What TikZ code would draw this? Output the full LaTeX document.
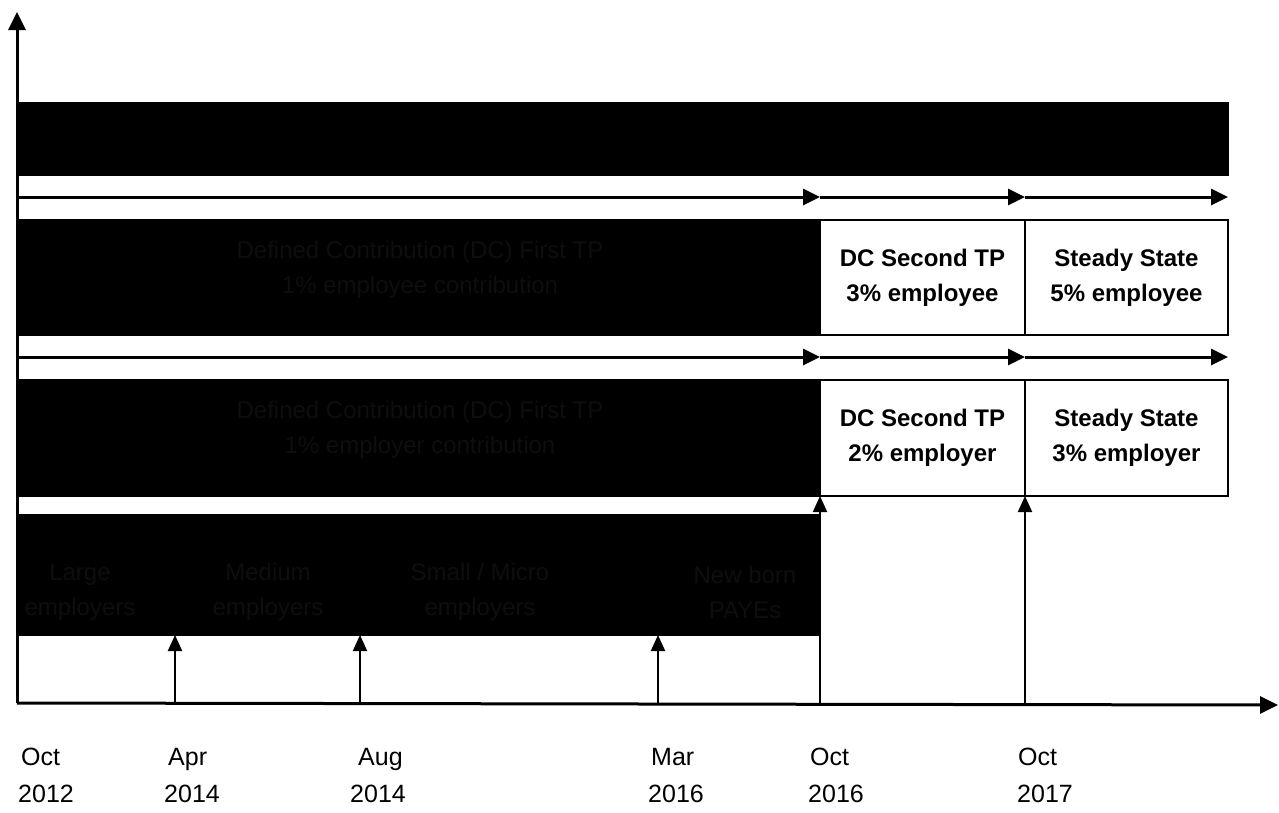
\documentclass[tikz,border=0pt]{standalone}
\usepackage{fontspec}
\setmainfont{Liberation Sans}
\usetikzlibrary{arrows.meta}
\definecolor{ghost}{RGB}{14,14,14}
\begin{document}
\begin{tikzpicture}[x=1pt,y=-1pt,
 box/.style={draw=black,line width=2pt,rectangle,inner sep=0pt,outer sep=0pt,align=center,font=\bfseries\fontsize{24}{35}\selectfont},
 darkbox/.style={box,fill=black,text=ghost},
 whitebox/.style={box,fill=white,text=black},
 ghosttext/.style={text=ghost,align=center,font=\fontsize{24}{35}\selectfont,inner sep=0pt},
 flow/.style={line width=3pt,-{Triangle[length=17pt,width=16pt]}},
 axisline/.style={line width=3pt,-{Triangle[length=18pt,width=17pt]}},
 tickline/.style={line width=2pt,-{Triangle[length=16pt,width=14pt]}},
 datelabel/.style={anchor=north west,align=left,inner sep=0pt,font=\fontsize{25}{37}\selectfont}]
\useasboundingbox (0,0) rectangle (1279,812);

% axes
\coordinate (O) at (17,703);
\coordinate (ytop) at (17,12);
\coordinate (xend) at (1278,705);
\draw[axisline] (O) -- (ytop);
\draw[axisline] (O) -- (xend);

% top bar
\node[darkbox,minimum width=1211pt,minimum height=72pt] (top) at (622.5,139) {};

% row 2 (employee)
\node[darkbox,minimum width=803pt,minimum height=115pt] (emp1) at (418.5,277.5) {};
\node[ghosttext] (emp1t) at (420,270) {Defined Contribution (DC) First TP\\1\% employee contribution};
\node[whitebox,minimum width=205pt,minimum height=115pt] (emp2) at (922.5,277.5) {DC Second TP\\3\% employee};
\node[whitebox,minimum width=203pt,minimum height=115pt] (emp3) at (1126.5,277.5) {Steady State\\5\% employee};

% row 3 (employer)
\node[darkbox,minimum width=803pt,minimum height=116pt] (er1) at (418.5,438) {};
\node[ghosttext] (er1t) at (420,430) {Defined Contribution (DC) First TP\\1\% employer contribution};
\node[whitebox,minimum width=205pt,minimum height=116pt] (er2) at (922.5,438) {DC Second TP\\2\% employer};
\node[whitebox,minimum width=203pt,minimum height=116pt] (er3) at (1126.5,438) {Steady State\\3\% employer};

% row 4 (staging)
\node[darkbox,minimum width=803pt,minimum height=120pt] (stg) at (418.5,575) {};
\node[ghosttext] (stg1) at (80,592) {Large\\employers};
\node[ghosttext] (stg2) at (268,592) {Medium\\employers};
\node[ghosttext] (stg3) at (480,592) {Small / Micro\\employers};
\node[ghosttext] (stg4) at (745,592) {New born\\PAYEs};

% flow arrows
\coordinate (f1s) at (17,197);
\coordinate (f1a) at (emp2.west |- f1s);
\coordinate (f1b) at (emp3.west |- f1s);
\coordinate (f1c) at (emp3.east |- f1s);
\draw[flow] (f1s) -- (f1a);
\draw[flow] (f1a) -- (f1b);
\draw[flow] (f1b) -- (f1c);
\coordinate (f2s) at (17,357);
\coordinate (f2a) at (emp2.west |- f2s);
\coordinate (f2b) at (emp3.west |- f2s);
\coordinate (f2c) at (emp3.east |- f2s);
\draw[flow] (f2s) -- (f2a);
\draw[flow] (f2a) -- (f2b);
\draw[flow] (f2b) -- (f2c);

% date ticks
\coordinate (t1) at (175,703);
\coordinate (t2) at (360,703);
\coordinate (t3) at (658,703);
\coordinate (t4) at (820,703);
\coordinate (t5) at (1025,703);
\draw[tickline] (t1) -- (t1 |- stg.south);
\draw[tickline] (t2) -- (t2 |- stg.south);
\draw[tickline] (t3) -- (t3 |- stg.south);
\draw[tickline] (t4) -- (er2.south west);
\draw[tickline] (t5) -- (er3.south west);

% date labels
\node[datelabel] (d1) at (18,748) {\hspace*{3pt}Oct\\2012};
\node[datelabel] (d2) at (164,748) {\hspace*{4pt}Apr\\2014};
\node[datelabel] (d3) at (350,748) {\hspace*{8pt}Aug\\2014};
\node[datelabel] (d4) at (648,748) {\hspace*{3pt}Mar\\2016};
\node[datelabel] (d5) at (808,748) {\hspace*{2pt}Oct\\2016};
\node[datelabel] (d6) at (1017,748) {\hspace*{1pt}Oct\\2017};
\end{tikzpicture}
\end{document}
